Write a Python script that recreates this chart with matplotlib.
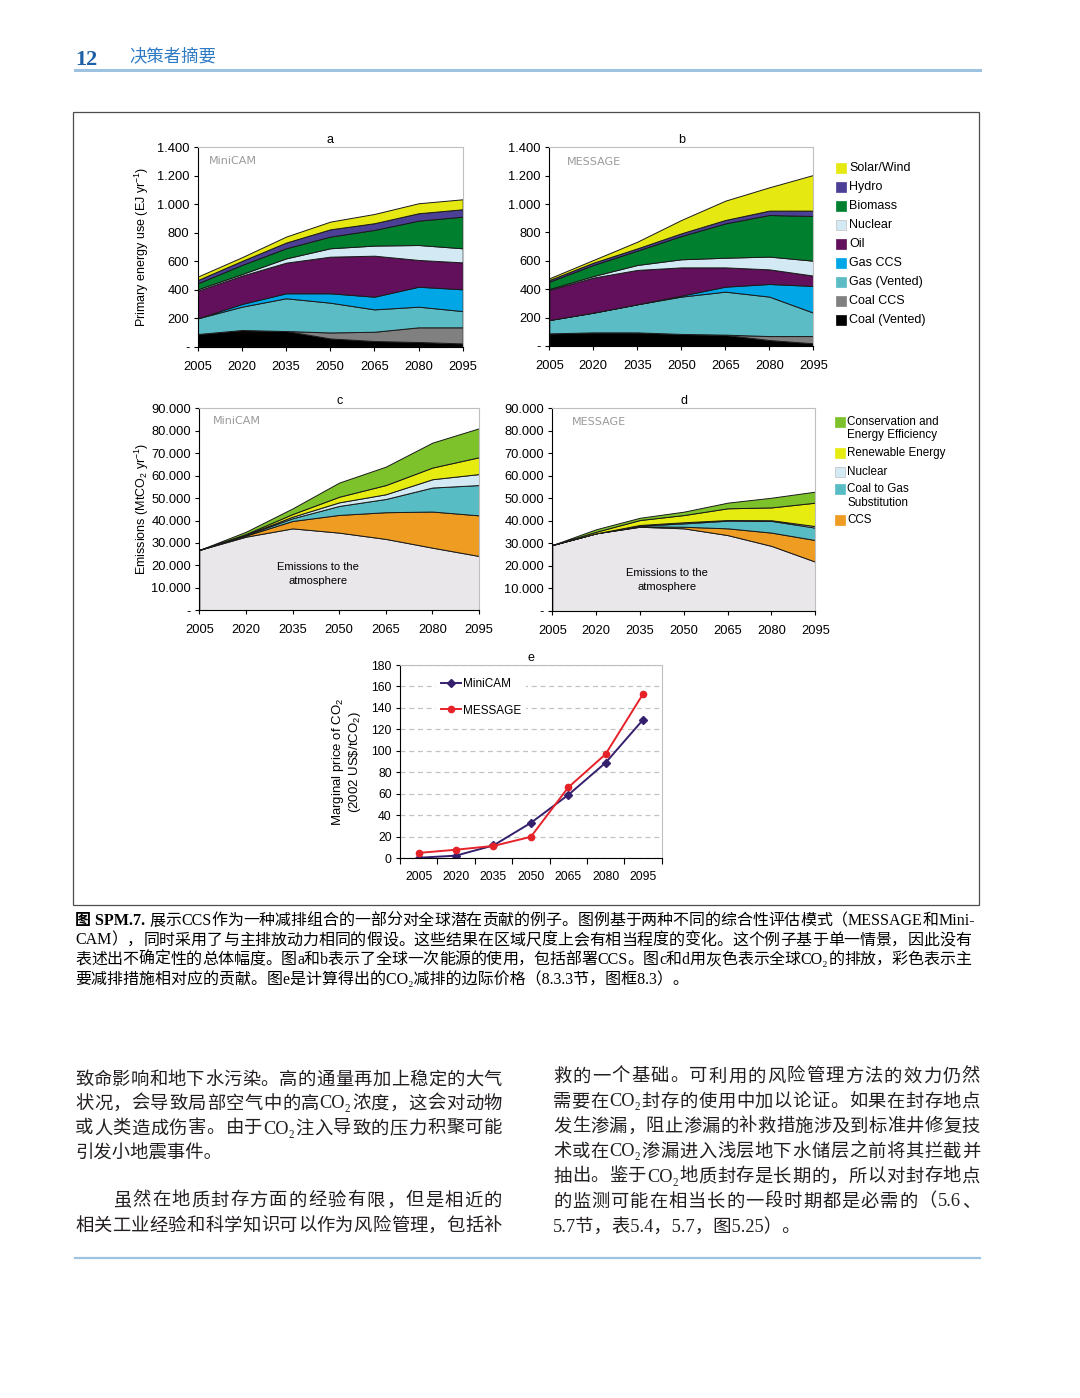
import re
import numpy as np
import matplotlib.pyplot as plt
from matplotlib.patches import Rectangle
from matplotlib.lines import Line2D
from matplotlib.ticker import FuncFormatter

plt.rcParams['font.family'] = ['Liberation Sans', 'DejaVu Sans']
plt.rcParams['mathtext.fontset'] = 'custom'
plt.rcParams['mathtext.rm'] = 'Liberation Sans'
plt.rcParams['mathtext.it'] = 'Liberation Sans:italic'
plt.rcParams['mathtext.bf'] = 'Liberation Sans:bold'

W, H = 1080, 1398
years = [2005, 2020, 2035, 2050, 2065, 2080, 2095]

# --- primary energy (EJ/yr), layers bottom -> top ---
energy_labels = ['Coal (Vented)', 'Coal CCS', 'Gas (Vented)', 'Gas CCS', 'Oil',
                 'Nuclear', 'Biomass', 'Hydro', 'Solar/Wind']
energy_colors = ['#000000', '#808080', '#5bbcc5', '#00a6e6', '#62105c',
                 '#d3e9f3', '#00802f', '#4b3f96', '#e6e812']

minicam_coal_vented = [89, 117, 110, 58, 40, 33, 23]
minicam_coal_ccs = [0, 0, 0, 42, 65, 103, 113]
minicam_gas_vented = [110, 164, 230, 209, 157, 145, 114]
minicam_gas_ccs = [0, 19, 35, 66, 89, 140, 153]
minicam_oil = [194, 199, 215, 257, 288, 188, 189]
minicam_nuclear = [10, 11, 30, 59, 71, 105, 99]
minicam_biomass = [42, 64, 71, 82, 110, 171, 222]
minicam_hydro = [23, 28, 40, 51, 47, 52, 52]
minicam_solar = [24, 26, 42, 54, 65, 70, 70]

message_coal_vented = [89, 96, 96, 85, 78, 42, 19]
message_coal_ccs = [0, 0, 0, 0, 2, 28, 51]
message_gas_vented = [94, 139, 198, 263, 303, 278, 165]
message_gas_ccs = [0, 0, 0, 7, 35, 89, 188]
message_oil = [212, 247, 242, 199, 136, 103, 73]
message_nuclear = [7, 11, 35, 57, 68, 90, 105]
message_biomass = [51, 78, 101, 164, 242, 293, 315]
message_hydro = [12, 16, 16, 19, 24, 31, 38]
message_solar = [12, 19, 47, 94, 136, 164, 251]

# --- emissions (MtCO2/yr), layers bottom -> top ---
emis_labels = ['Emissions', 'CCS', 'Coal to Gas\nSubstitution', 'Nuclear',
               'Renewable Energy', 'Conservation and\nEnergy Efficiency']
emis_colors = ['#e9e7ea', '#ef9c22', '#58bcc4', '#d3e9f3', '#e6eb10', '#7dc22a']

mc_atmos = [26900, 32800, 36500, 34600, 31800, 27900, 24200]
mc_ccs = [0, 500, 3300, 7900, 11900, 16100, 18100]
mc_coal_gas = [0, 300, 1200, 4000, 5900, 10700, 13500]
mc_nuclear = [0, 100, 700, 1600, 2100, 3700, 4900]
mc_renew = [0, 300, 1200, 2500, 4100, 5200, 7500]
mc_conserv = [0, 1000, 2500, 6300, 8200, 11100, 12900]

ms_atmos = [29300, 34500, 37400, 36700, 33700, 28900, 21900]
ms_ccs = [0, 0, 200, 700, 3000, 5900, 9600]
ms_coal_gas = [0, 0, 300, 1500, 3400, 5200, 5500]
ms_nuclear = [0, 0, 300, 500, 300, 300, 700]
ms_renew = [0, 700, 2200, 3200, 5200, 5700, 10400]
ms_conserv = [0, 1100, 1000, 1500, 2500, 4300, 4900]

# --- marginal CO2 price (2002 US$/tCO2) ---
price_minicam = [0.5, 2.5, 12, 33, 59, 89, 129]
price_message = [5, 8, 11.5, 20, 66, 97, 153]

fig = plt.figure(figsize=(W / 100, H / 100), dpi=100)
renderer = fig.canvas.get_renderer()


def ax_px(l, t, r, b):
    return fig.add_axes([l / W, 1 - b / H, (r - l) / W, (b - t) / H])


def ftext(x, y, s, **kw):
    return fig.text(x / W, 1 - y / H, s, **kw)


def dotfmt(v, pos):
    if v == 0:
        return '-'
    return f'{v:,.0f}'.replace(',', '.')


def style_axes(ax):
    for s in ['left', 'bottom']:
        ax.spines[s].set_color('black')
        ax.spines[s].set_linewidth(0.8)
    for s in ['top', 'right']:
        ax.spines[s].set_color('#bfbfbf')
        ax.spines[s].set_linewidth(0.8)
    ax.tick_params(direction='out', length=3, width=0.8, labelsize=9.3, pad=3)


def area_panel(ax, layers, colors, ymax, ystep, title, model, model_xy):
    ax.stackplot(years, *layers, colors=colors, edgecolor='#1a1a1a', linewidth=0.7)
    ax.set_xlim(2005, 2095)
    ax.set_ylim(0, ymax)
    ax.set_xticks(years)
    ax.set_yticks(np.arange(0, ymax + 1, ystep))
    ax.yaxis.set_major_formatter(FuncFormatter(dotfmt))
    style_axes(ax)
    ax.tick_params(axis='x', pad=7)
    ax.set_title(title, fontsize=9, pad=3)
    ax.text(model_xy[0], model_xy[1], model, transform=ax.transAxes, fontsize=8,
            color='#9a9a9a', family='DejaVu Sans', va='center')


# panel a / b
ax_a = ax_px(197.7, 147.3, 462.7, 346.7)
area_panel(ax_a, [minicam_coal_vented, minicam_coal_ccs, minicam_gas_vented, minicam_gas_ccs,
                  minicam_oil, minicam_nuclear, minicam_biomass, minicam_hydro, minicam_solar],
           energy_colors, 1400, 200, 'a', 'MiniCAM', (0.044, 0.933))
ax_a.set_ylabel('Primary energy use (EJ yr$^{-1}$)', fontsize=9)
ax_a.yaxis.set_label_coords(-0.176, 0.5)

ax_b = ax_px(549.3, 147.3, 813.3, 346.0)
area_panel(ax_b, [message_coal_vented, message_coal_ccs, message_gas_vented, message_gas_ccs,
                  message_oil, message_nuclear, message_biomass, message_hydro, message_solar],
           energy_colors, 1400, 200, 'b', 'MESSAGE', (0.066, 0.924))

# panel c / d
ax_c = ax_px(199.3, 408.3, 479.0, 610.3)
area_panel(ax_c, [mc_atmos, mc_ccs, mc_coal_gas, mc_nuclear, mc_renew, mc_conserv],
           emis_colors, 90000, 10000, 'c', 'MiniCAM', (0.05, 0.937))
ax_c.set_ylabel('Emissions (MtCO$_2$ yr$^{-1}$)', fontsize=9)
ax_c.yaxis.set_label_coords(-0.172, 0.5)
ax_c.text(0.424, 0.182, 'Emissions to the\natmosphere', transform=ax_c.transAxes,
          ha='center', va='center', fontsize=8, linespacing=1.5)

ax_d = ax_px(552.3, 408.3, 815.3, 611.0)
area_panel(ax_d, [ms_atmos, ms_ccs, ms_coal_gas, ms_nuclear, ms_renew, ms_conserv],
           emis_colors, 90000, 10000, 'd', 'MESSAGE', (0.074, 0.931))
ax_d.text(0.436, 0.155, 'Emissions to the\natmosphere', transform=ax_d.transAxes,
          ha='center', va='center', fontsize=8, linespacing=1.5)

# panel e
ax_e = ax_px(400, 665, 661.7, 858.3)
xe = np.arange(len(years))
ax_e.plot(xe, price_minicam, color='#35206e', marker='D', ms=4, lw=1.4, label='MiniCAM')
ax_e.plot(xe, price_message, color='#e62229', marker='o', ms=4.5, lw=1.4, label='MESSAGE')
ax_e.set_xlim(-0.5, 6.5)
ax_e.set_ylim(0, 180)
ax_e.set_yticks(range(0, 181, 20))
ax_e.set_xticks(xe)
ax_e.set_xticklabels(years)
ax_e.set_xticks(np.arange(-0.5, 7, 1), minor=True)
style_axes(ax_e)
ax_e.tick_params(labelsize=8.8)
ax_e.tick_params(axis='x', which='major', length=0, pad=9)
ax_e.tick_params(axis='x', which='minor', length=4, width=0.8, direction='out')
ax_e.yaxis.grid(True, ls=(0, (4, 3)), color='#c4c4c4', lw=0.9)
ax_e.set_axisbelow(True)
ax_e.set_title('e', fontsize=9, pad=3)
ax_e.set_ylabel('Marginal price of CO$_2$\n(2002 US\\$/tCO$_2$)', fontsize=9.5, linespacing=1.1)
ax_e.yaxis.set_label_coords(-0.14, 0.5)
ax_e.legend(loc='upper left', bbox_to_anchor=(0.138, 0.955), borderaxespad=0, frameon=True,
            facecolor='white', edgecolor='none', fancybox=False, framealpha=1,
            fontsize=8.5, handlelength=1.7, handletextpad=0.2, labelspacing=1.2, borderpad=0.4)

# legends
leg1 = list(zip(energy_labels[::-1], energy_colors[::-1]))
for i, (lab, col) in enumerate(leg1):
    y = 167.7 + i * 19.03
    fig.add_artist(Rectangle((835.7 / W, 1 - (y + 5) / H), 10 / W, 10 / H,
                             transform=fig.transFigure, facecolor=col,
                             edgecolor='#c0c0c0' if lab == 'Nuclear' else col, lw=0.5))
    ftext(849, y, lab, fontsize=9, va='center')

leg2_y = [421.7, 453.3, 471.7, 489.3, 520.0]
leg2 = list(zip(emis_labels[::-1], emis_colors[::-1]))[:5]
for (lab, col), y in zip(leg2, leg2_y):
    fig.add_artist(Rectangle((835 / W, 1 - (y + 5) / H), 10 / W, 10 / H,
                             transform=fig.transFigure, facecolor=col,
                             edgecolor='#c0c0c0' if lab == 'Nuclear' else col, lw=0.5))
    for j, line in enumerate(lab.split('\n')):
        ftext(847, y + j * 13.5, line, fontsize=8.4, va='center')

# outer frame
fig.add_artist(Rectangle((73 / W, 1 - 905 / H), (979 - 73) / W, (905 - 112) / H, fill=False,
                         edgecolor='#4d4d4d', lw=0.9, transform=fig.transFigure))

# header
cjk = ['Liberation Serif', 'Noto Sans CJK SC', 'DejaVu Sans']
ftext(75, 60, '12', fontsize=16, fontweight='bold', color='#1f5fa5', family='Liberation Serif', va='center')
ftext(129, 57, '决策者摘要', fontsize=12.5, color='#2e7bc4', family=cjk, va='center')
fig.add_artist(Line2D([75 / W, 980 / W], [1 - 69.5 / H, 1 - 69.5 / H], color='#9dc3e0', lw=2.2,
                      transform=fig.transFigure))
fig.add_artist(Line2D([75 / W, 980 / W], [1 - 1258 / H, 1 - 1258 / H], color='#9dc3e0', lw=1.6,
                      transform=fig.transFigure))

# justified text lines (latin runs kept together, CJK chars spread evenly)
tok_re = re.compile(r'[A-Za-z0-9.₂\-]+|.')


def justify(x0, x1, y, s, **kw):
    toks = tok_re.findall(s)
    arts = [ftext(x0, y, t, **kw) for t in toks]
    widths = [a.get_window_extent(renderer=renderer).width for a in arts]
    gap = (x1 - x0 - sum(widths)) / max(len(toks) - 1, 1)
    x = x0
    for a, w in zip(arts, widths):
        a.set_x(x / W)
        x += w + gap


# caption
cap_fs = 11.5
cap_kw = dict(fontsize=cap_fs, family=cjk, va='center')
tb = ftext(75, 921, '图 SPM.7.', fontweight='bold', **cap_kw)
bw = tb.get_window_extent(renderer=renderer).width
justify(75 + bw + 4, 975, 921,
        '展示CCS作为一种减排组合的一部分对全球潜在贡献的例子。图例基于两种不同的综合性评估模式（MESSAGE和Mini-',
        **cap_kw)
caption_lines = [
    'CAM），同时采用了与主排放动力相同的假设。这些结果在区域尺度上会有相当程度的变化。这个例子基于单一情景，因此没有',
    '表述出不确定性的总体幅度。图a和b表示了全球一次能源的使用，包括部署CCS。图c和d用灰色表示全球CO₂的排放，彩色表示主',
]
for i, line in enumerate(caption_lines):
    justify(75, 971, 940.5 + i * 19.5, line, **cap_kw)
ftext(75, 979.5, '要减排措施相对应的贡献。图e是计算得出的CO₂减排的边际价格（8.3.3节，图框8.3）。', **cap_kw)

# body text: (text, y, indent, justified)
body_kw = dict(fontsize=13.2, family=cjk, va='center', color='#231f20')
left_lines = [
    ('致命影响和地下水污染。高的通量再加上稳定的大气', 1080, 0, True),
    ('状况，会导致局部空气中的高CO₂浓度，这会对动物', 1104, 0, True),
    ('或人类造成伤害。由于CO₂注入导致的压力积聚可能', 1129, 0, True),
    ('引发小地震事件。', 1154, 0, False),
    ('虽然在地质封存方面的经验有限，但是相近的', 1201, 38, True),
    ('相关工业经验和科学知识可以作为风险管理，包括补', 1226, 0, True),
]
right_lines = [
    ('救的一个基础。可利用的风险管理方法的效力仍然', 1077, 0, True),
    ('需要在CO₂封存的使用中加以论证。如果在封存地点', 1102, 0, True),
    ('发生渗漏，阻止渗漏的补救措施涉及到标准井修复技', 1127, 0, True),
    ('术或在CO₂渗漏进入浅层地下水储层之前将其拦截并', 1152, 0, True),
    ('抽出。鉴于CO₂地质封存是长期的，所以对封存地点', 1177, 0, True),
    ('的监测可能在相当长的一段时期都是必需的（5.6、', 1202, 0, True),
    ('5.7节，表5.4，5.7，图5.25）。', 1227, 0, False),
]
for lines, x0, x1 in [(left_lines, 75, 502), (right_lines, 553, 980)]:
    for s, y, ind, just in lines:
        if just:
            justify(x0 + ind, x1, y, s, **body_kw)
        else:
            ftext(x0 + ind, y, s, **body_kw)

fig.savefig('out.png', dpi=100)
